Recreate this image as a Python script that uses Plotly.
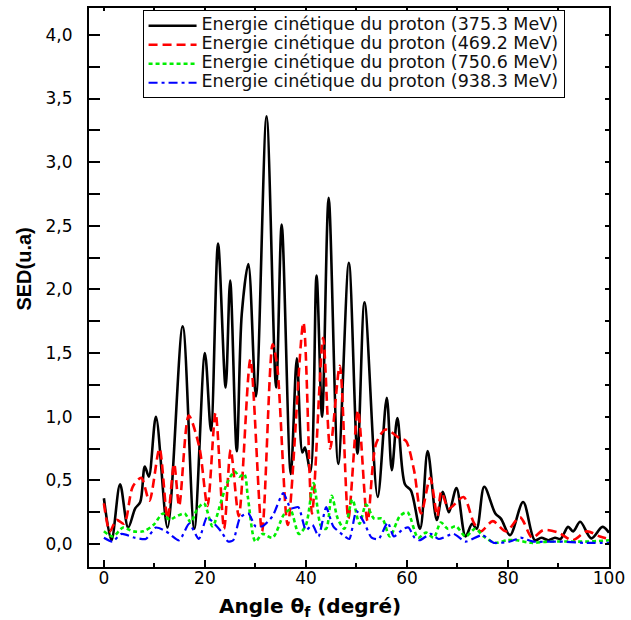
import plotly.graph_objects as go

# ---------------- data ----------------
x_375 = [0, 1.5, 3.2, 4.8, 6.2, 7.2, 8.1, 8.9, 10.3, 12.6, 15.6, 17.9, 20.0, 21.2, 22.6, 24.1,
         25.0, 26.3, 27.3, 28.6, 30.1, 32.2, 34.1, 35.2, 37.0, 38.2, 39.3, 39.8, 40.9, 42.1,
         43.2, 44.5, 46.4, 48.5, 50.2, 51.6, 54.2, 56.0, 57.0, 58.1, 59.6, 60.8, 62.6, 64.1,
         65.9, 67.1, 68.3, 69.8, 71.6, 72.9, 73.8, 75.3, 77.5, 78.6, 80.4, 83.0, 85.3, 86.6,
         88.0, 89.3, 90.4, 91.9, 92.9, 94.3, 96.5, 98.7, 100]
y_375 = [0.36, 0.03, 0.47, 0.13, 0.28, 0.33, 0.61, 0.53, 1.0, 0.13, 1.71, 0.12, 1.50, 0.89, 2.36, 1.23,
         2.07, 0.73, 1.81, 2.20, 1.16, 3.36, 1.23, 2.51, 0.55, 1.46, 0.72, 0.76, 0.57, 2.11,
         1.0, 2.72, 0.63, 2.21, 0.71, 1.90, 0.37, 1.15, 0.58, 0.99, 0.47, 0.42, 0.12, 0.73,
         0.19, 0.41, 0.25, 0.44, 0.06, 0.16, 0.12, 0.45, 0.24, 0.20, 0.07, 0.33, 0.03, 0.05,
         0.03, 0.05, 0.04, 0.135, 0.10, 0.175, 0.045, 0.135, 0.09]

x_469 = [0, 1.2, 2.5, 4.0, 5.7, 7.4, 9.0, 11.0, 12.6, 13.9, 14.9, 16.8, 18.9, 20.5, 22.1, 23.8,
         25.1, 26.7, 29.0, 31.3, 33.4, 34.3, 36.4, 39.5, 41.2, 43.4, 44.8, 46.7, 48.4, 50.3,
         52.2, 53.9, 55.8, 58.6, 59.8, 61.4, 62.8, 64.6, 66.0, 66.8, 68.3, 71.2, 73.2, 74.6,
         77.0, 79.6, 82.4, 84.8, 87.0, 90.0, 92.8, 95.6, 98.2, 100]
y_469 = [0.32, 0.10, 0.19, 0.16, 0.45, 0.52, 0.34, 0.75, 0.20, 0.63, 0.30, 1.01, 0.76, 0.30, 1.03, 0.12,
         0.74, 0.22, 1.45, 0.10, 1.57, 1.40, 0.15, 1.74, 0.24, 1.62, 0.75, 1.40, 0.20, 1.05,
         0.18, 0.79, 0.90, 0.83, 0.81, 0.58, 0.24, 0.52, 0.22, 0.41, 0.28, 0.37, 0.17, 0.10,
         0.18, 0.10, 0.21, 0.05, 0.11, 0.09, 0.03, 0.10, 0.06, 0.04]

x_750 = [0, 1.8, 3.8, 5.8, 7.8, 9.8, 11.7, 13.0, 14.0, 16.0, 17.2, 18.4, 19.8, 21.5, 23.1, 24.4,
         25.9, 26.8, 27.8, 28.5, 30.0, 31.4, 33.4, 35.6, 36.9, 38.6, 40.0, 41.5, 43.0, 44.0,
         45.1, 46.3, 47.6, 49.2, 50.6, 51.9, 53.5, 55.1, 56.6, 58.6, 60.1, 62.2, 63.8, 65.3,
         66.7, 68.1, 69.7, 71.6, 73.5, 75.2, 77.4, 79.8, 81.8, 84.6, 88, 92, 96, 100]
y_750 = [0.10, 0.06, 0.13, 0.10, 0.10, 0.15, 0.24, 0.19, 0.21, 0.24, 0.17, 0.27, 0.32, 0.14, 0.32, 0.48,
         0.57, 0.53, 0.55, 0.37, 0.02, 0.08, 0.05, 0.23, 0.27, 0.08, 0.15, 0.48, 0.14, 0.12,
         0.38, 0.20, 0.12, 0.35, 0.16, 0.31, 0.20, 0.20, 0.06, 0.22, 0.25, 0.05, 0.09, 0.05,
         0.17, 0.12, 0.14, 0.06, 0.12, 0.06, 0.01, 0.03, 0.03, 0.01, 0.02, 0.02, 0.02, 0.03]

x_938 = [0, 1.7, 3.5, 6.1, 8.3, 10.3, 12.3, 14.9, 16.9, 18.8, 20.4, 22.1, 23.2, 24.6, 25.6, 27.0,
         28.6, 30.0, 31.4, 33.4, 35.5, 37.0, 38.5, 40.0, 41.3, 42.5, 44.0, 45.4, 47.7, 48.6,
         50.0, 51.5, 53.0, 54.4, 56.2, 57.4, 59.3, 60.3, 61.5, 62.5, 64.7, 66.3, 69.2, 71.6,
         74.9, 77.2, 80.4, 82.5, 85, 90, 95, 100]
y_938 = [0.05, 0.02, 0.08, 0.05, 0.04, 0.13, 0.10, 0.03, 0.16, 0.04, 0.21, 0.15, 0.10, 0.02, 0.03, 0.21,
         0.24, 0.14, 0.14, 0.22, 0.40, 0.28, 0.29, 0.11, 0.15, 0.06, 0.29, 0.14, 0.06, 0.04,
         0.26, 0.17, 0.05, 0.04, 0.17, 0.06, 0.12, 0.13, 0.05, 0.03, 0.08, 0.04, 0.08, 0.02,
         0.07, 0.01, 0.02, 0.05, 0.02, 0.02, 0.01, 0.01]

series_names = ["Energie cinétique du proton (375.3 MeV)",
                "Energie cinétique du proton (469.2 MeV)",
                "Energie cinétique du proton (750.6 MeV)",
                "Energie cinétique du proton (938.3 MeV)"]

y_tickvals = [0, 0.5, 1.0, 1.5, 2.0, 2.5, 3.0, 3.5, 4.0]
y_ticktext = ["0,0", "0,5", "1,0", "1,5", "2,0", "2,5", "3,0", "3,5", "4,0"]
x_tickvals = [0, 20, 40, 60, 80, 100]
x_ticktext = ["0", "20", "40", "60", "80", "100"]


def legend_label(name):
    # larger visible text while keeping the compact legend row height
    return '<span style="font-size:17.5px">' + name + '</span>'


# ---------------- figure ----------------
fig = go.Figure()
fig.add_trace(go.Scatter(x=x_375, y=y_375, mode="lines", name=legend_label(series_names[0]),
                         line=dict(color="black", width=2.6, shape="spline", smoothing=0.9)))
fig.add_trace(go.Scatter(x=x_469, y=y_469, mode="lines", name=legend_label(series_names[1]),
                         line=dict(color="#ff0000", width=2.6, dash="9px,5px", shape="spline", smoothing=0.8)))
fig.add_trace(go.Scatter(x=x_750, y=y_750, mode="lines", name=legend_label(series_names[2]),
                         line=dict(color="#00ee00", width=2.6, dash="4px,3px", shape="spline", smoothing=0.8)))
fig.add_trace(go.Scatter(x=x_938, y=y_938, mode="lines", name=legend_label(series_names[3]),
                         line=dict(color="#0000ff", width=2.2, dash="9px,4px,3px,4px", shape="spline", smoothing=0.6)))
# empty trace to activate the mirror (top/right) axes with short ticks
fig.add_trace(go.Scatter(x=[], y=[], xaxis="x2", yaxis="y2", showlegend=False, hoverinfo="skip"))

tick_font = dict(family="DejaVu Sans", size=17, color="black")

fig.update_layout(
    width=631, height=620,
    margin=dict(l=89, r=18, t=6, b=53),
    paper_bgcolor="white", plot_bgcolor="white",
    showlegend=True,
    legend=dict(x=0.103, y=0.996, xanchor="left", yanchor="top",
                bgcolor="white", bordercolor="black", borderwidth=1,
                font=dict(family="DejaVu Sans", size=12, color="#111111"),
                tracegroupgap=0, itemwidth=48),
    xaxis=dict(range=[-2.95, 100], tickvals=x_tickvals, ticktext=x_ticktext,
               ticks="inside", ticklen=7, tickwidth=1.5, tickcolor="black",
               minor=dict(ticks="inside", ticklen=4, tickwidth=1.5, dtick=10, tick0=0, tickcolor="black"),
               showline=True, linecolor="black", linewidth=2, mirror=True,
               showgrid=False, zeroline=False, tickfont=tick_font, ticklabelstandoff=-5),
    yaxis=dict(range=[-0.18, 4.211], tickvals=y_tickvals, ticktext=y_ticktext,
               ticks="inside", ticklen=11, tickwidth=1.5, tickcolor="black",
               minor=dict(ticks="inside", ticklen=11, tickwidth=1.5, dtick=0.25, tick0=0, tickcolor="black"),
               showline=True, linecolor="black", linewidth=2, mirror=True,
               showgrid=False, zeroline=False, tickfont=tick_font, ticklabelstandoff=11),
    xaxis2=dict(overlaying="x", side="top", matches="x", anchor="y2", tickvals=x_tickvals,
                showticklabels=False, ticks="inside", ticklen=3, tickwidth=1.5, tickcolor="black",
                minor=dict(ticks="inside", ticklen=2, dtick=10, tick0=0, tickcolor="black"),
                showgrid=False, zeroline=False, showline=False),
    yaxis2=dict(overlaying="y", side="right", matches="y", anchor="x2", tickvals=y_tickvals,
                showticklabels=False, ticks="inside", ticklen=4, tickwidth=1.5, tickcolor="black",
                minor=dict(ticks="inside", ticklen=4, dtick=0.25, tick0=0, tickcolor="black"),
                showgrid=False, zeroline=False, showline=False),
    annotations=[
        dict(text="<b>Angle θ<sub>f</sub> (degré)</b>", xref="paper", yref="paper",
             x=0.4256, y=-0.072, xanchor="center", yanchor="middle", showarrow=False,
             font=dict(family="DejaVu Sans", size=20, color="black")),
        dict(text="<b>SED(u.a)</b>", xref="paper", yref="paper", textangle=-90,
             x=-0.124, y=0.533, xanchor="center", yanchor="middle", showarrow=False,
             font=dict(family="Liberation Sans", size=20, color="black")),
    ],
)

fig.write_html("out.html", config={"displayModeBar": False},
               post_script="document.body.style.margin='0px';document.body.style.padding='0px';")
